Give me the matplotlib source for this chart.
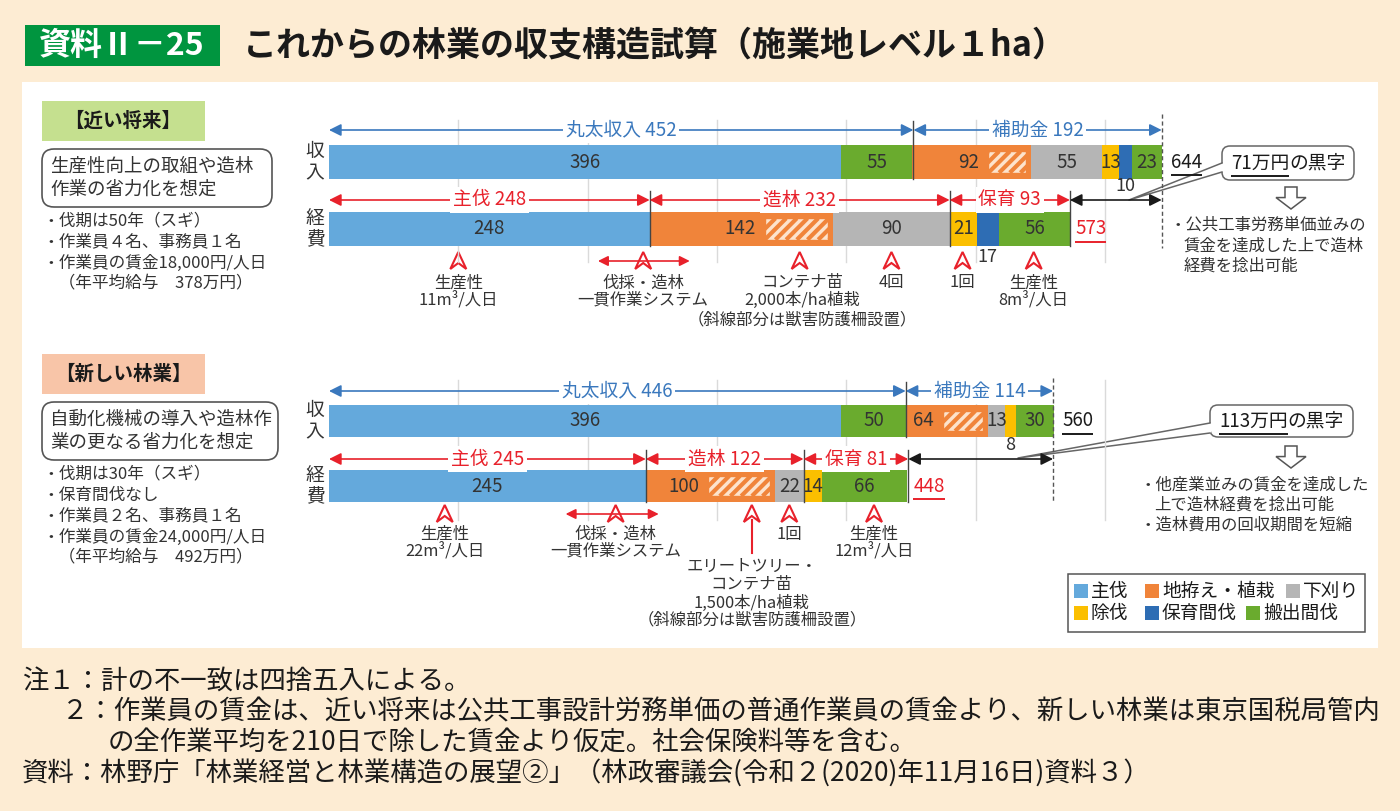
import numpy as np
import matplotlib.pyplot as plt
from matplotlib.patches import Rectangle, FancyBboxPatch, Polygon

plt.rcParams['font.family'] = ['Noto Sans CJK JP', 'DejaVu Sans']

# ---- data (万円/ha) ----
legend_names = ['主伐', '地拵え・植栽', '下刈り', '除伐', '保育間伐', '搬出間伐']
legend_colors = ['#64a9dc', '#f0843a', '#b5b5b5', '#fbbf00', '#2e6db4', '#6aab2e']

near_rev = [396, 55, 92, 55, 13, 10, 23]
near_rev_kind = ['主伐', '搬出間伐', '地拵え・植栽', '下刈り', '除伐', '保育間伐', '搬出間伐']
near_cost = [248, 142, 90, 21, 17, 56]
near_cost_kind = ['主伐', '地拵え・植栽', '下刈り', '除伐', '保育間伐', '搬出間伐']
new_rev = [396, 50, 64, 13, 8, 30]
new_rev_kind = ['主伐', '搬出間伐', '地拵え・植栽', '下刈り', '除伐', '搬出間伐']
new_cost = [245, 100, 22, 14, 66]
new_cost_kind = ['主伐', '地拵え・植栽', '下刈り', '除伐', '搬出間伐']

near_rev_groups = [('丸太収入', 452), ('補助金', 192)]
near_cost_groups = [('主伐', 248), ('造林', 232), ('保育', 93)]
new_rev_groups = [('丸太収入', 446), ('補助金', 114)]
new_cost_groups = [('主伐', 245), ('造林', 122), ('保育', 81)]

near_totals = (644, 573)
new_totals = (560, 448)
surplus_labels = ['71万円', '113万円']

# hatched part (獣害防護柵) inside 地拵え・植栽
near_fence = (29, 49)
new_fence = (31, 48)

colors = dict(zip(legend_names, legend_colors))

BLUE = '#3a78bd'
RED = '#e8212b'
TXT = '#333333'
BG = '#fdecd3'
PALE = '#fde3cc'

# pixel layout: x = X0 + SCALE * value
X0, SCALE = 329, 1.293


def u(px):
    return (px - X0) / SCALE


fig = plt.figure(figsize=(14, 8.11), dpi=100)
fig.patch.set_facecolor(BG)
bg = fig.add_axes([0, 0, 1, 1])
bg.set_xlim(0, 1400)
bg.set_ylim(811, 0)
bg.axis('off')
ax = fig.add_axes([0, 0, 1, 1])
ax.set_xlim(u(0), u(1400))
ax.set_ylim(811, 0)
ax.axis('off')
ax.patch.set_alpha(0)

# frame / title
bg.add_patch(Rectangle((22, 82), 1356, 566, facecolor='white', edgecolor='none'))
bg.add_patch(Rectangle((25, 25), 195, 41, facecolor='#00953f', edgecolor='none'))
bg.text(122, 46, '資料Ⅱ－25', color='white', fontsize=23, fontweight='bold',
        ha='center', va='center')
bg.text(243, 46, 'これからの林業の収支構造試算（施業地レベル１ha）', color='#1a1a1a',
        fontsize=24.5, fontweight='bold', ha='left', va='center')

renderer = fig.canvas.get_renderer()


def underline(axis, t, color, lw=1.4, dy=2, z=3):
    bb = t.get_window_extent(renderer)
    inv = axis.transData.inverted()
    (xa, ya), (xb, yb) = inv.transform([(bb.x0, bb.y0), (bb.x1, bb.y1)])
    axis.plot([xa, xb], [max(ya, yb) + dy, max(ya, yb) + dy], color=color, lw=lw,
              solid_capstyle='butt', zorder=z)


# ---- left panels ----
def left_panel(y0, title, title_color, box_lines, box_w, bullets):
    bg.add_patch(Rectangle((42, y0), 163, 40, facecolor=title_color, edgecolor='none'))
    bg.text(123, y0 + 20, title, fontsize=14, fontweight='bold', ha='center',
            va='center', color='#1a1a1a')
    bg.add_patch(FancyBboxPatch((42, y0 + 48), box_w, 58,
                                boxstyle='round,pad=0,rounding_size=12',
                                facecolor='white', edgecolor='#555555', lw=1.2))
    bg.text(50, y0 + 77, box_lines, fontsize=13.3, ha='left', va='center',
            color=TXT, linespacing=1.35)
    for i, b in enumerate(bullets):
        bg.text(42, y0 + 120 + 21 * i, b, fontsize=12, ha='left', va='center',
                color=TXT)


left_panel(101, '【近い将来】', '#c5e08f', '生産性向上の取組や造林\n作業の省力化を想定', 230,
           ['・伐期は50年（スギ）', '・作業員４名、事務員１名',
            '・作業員の賃金18,000円/人日', '　（年平均給与　378万円）'])
left_panel(354, '【新しい林業】', '#f8c5a8', '自動化機械の導入や造林作\n業の更なる省力化を想定', 236,
           ['・伐期は30年（スギ）', '・保育間伐なし', '・作業員２名、事務員１名',
            '・作業員の賃金24,000円/人日', '　（年平均給与　492万円）'])

for yc, lab in [(162, '収\n入'), (229, '経\n費'), (421, '収\n入'), (486, '経\n費')]:
    bg.text(315, yc, lab, fontsize=13.5, ha='center', va='center', color=TXT,
            linespacing=1.0)

# ---- grid ----
for g in range(100, 700, 100):
    ax.plot([g, g], [120, 262], color='#dadada', lw=1, zorder=0)
    ax.plot([g, g], [380, 520], color='#dadada', lw=1, zorder=0)


def hatch_box(x0, width, yc, hpx):
    rect = Rectangle((x0, yc - hpx / 2), width, hpx, facecolor=PALE,
                     edgecolor='#f0843a', lw=1.0, zorder=3)
    ax.add_patch(rect)
    period = 10.7 / SCALE
    dx = hpx / SCALE
    xs = np.arange(x0 - dx, x0 + width + period, period)
    for xs0 in xs:
        ln, = ax.plot([xs0, xs0 + dx], [yc + hpx / 2, yc - hpx / 2],
                      color='#f0843a', lw=3.0, zorder=3.5, solid_capstyle='butt')
        ln.set_clip_path(rect)


# ---- bars ----
def draw_bar(yc, h, vals, kinds, fence, below_y):
    left = 0
    for v, k in zip(vals, kinds):
        ax.barh(yc, v, left=left, height=h, color=colors[k], zorder=2)
        if k == '地拵え・植栽':
            hs = left + v - 4 - fence
            hatch_box(hs, fence, yc, h * 0.63)
            ax.text(hs - 7, yc, str(v), fontsize=13.5, ha='right', va='center',
                    color=TXT, zorder=4)
        elif k == '保育間伐' or v < 10:
            ax.text(left + v / 2, below_y, str(v), fontsize=13, ha='center',
                    va='center', color=TXT, zorder=4)
        else:
            ax.text(left + v / 2, yc, str(v), fontsize=13.5, ha='center',
                    va='center', color=TXT, zorder=4)
        left += v


draw_bar(162, 34, near_rev, near_rev_kind, near_fence[0], 186)
draw_bar(229, 34, near_cost, near_cost_kind, near_fence[1], 257)
draw_bar(421, 32, new_rev, new_rev_kind, new_fence[0], 445)
draw_bar(486, 32, new_cost, new_cost_kind, new_fence[1], 512)


# ---- group brackets ----
def dbl_arrow(x0, x1, y, color, ms=18, lw=1.2):
    ax.annotate('', xy=(x1, y), xytext=(x0, y),
                arrowprops=dict(arrowstyle='<|-|>', color=color, lw=lw,
                                mutation_scale=ms, shrinkA=0, shrinkB=0),
                zorder=5)


def brackets(groups, y, color, bar_bottom, seps):
    left = 0
    for name, v in groups:
        dbl_arrow(left, left + v, y, color)
        ax.text(left + v / 2, y, f'{name} {v}', fontsize=13.5, color=color,
                ha='center', va='center', zorder=6,
                bbox=dict(boxstyle='square,pad=0.15', facecolor='white',
                          edgecolor='none'))
        left += v
        if left in seps:
            ax.plot([left, left], [y - 9, bar_bottom], color='#444444', lw=1,
                    zorder=4)


brackets(near_rev_groups, 130, BLUE, 179, [452])
brackets(near_cost_groups, 200, RED, 246, [248, 480, 573])
brackets(new_rev_groups, 391, BLUE, 437, [446])
brackets(new_cost_groups, 459, RED, 502, [245, 367, 448])


# totals, surplus arrow, dashed line
def totals_block(tot, rev_y, cost_y, arrow_y, top, bottom):
    rev_t, cost_t = tot
    t1 = ax.text(rev_t + 7, rev_y, str(rev_t), fontsize=13.5, ha='left',
                 va='center', color='#1a1a1a')
    underline(ax, t1, '#1a1a1a')
    t2 = ax.text(cost_t + 4, cost_y, str(cost_t), fontsize=13.5, ha='left',
                 va='center', color=RED)
    underline(ax, t2, RED)
    dbl_arrow(cost_t, rev_t, arrow_y, '#1a1a1a')
    ax.plot([rev_t, rev_t], [top, bottom], color='#555555', lw=1,
            ls=(0, (3, 2)), zorder=5)


totals_block(near_totals, 162, 229, 200, 114, 248)
totals_block(new_totals, 421, 486, 459, 378, 502)


# ---- callouts ----
def callout(x, y, w, h, label, tip, base_y):
    bg.add_patch(FancyBboxPatch((x, y), w, h, boxstyle='round,pad=0,rounding_size=8',
                                facecolor='white', edgecolor='#666666', lw=1.1,
                                zorder=7))
    bg.add_patch(Polygon([(x + 1, base_y[0]), tip, (x + 1, base_y[1])], closed=True,
                         facecolor='white', edgecolor='none', zorder=8))
    bg.plot([x, tip[0], x], [base_y[0], tip[1], base_y[1]], color='#666666',
            lw=1.1, zorder=9)
    cx = x + w / 2
    full = bg.text(cx, y + h / 2, label + 'の黒字', fontsize=13.5, ha='center',
                   va='center', alpha=0)
    bb = full.get_window_extent(renderer)
    start = bg.transData.inverted().transform((bb.x0, bb.y0))[0]
    t = bg.text(start, y + h / 2, label, fontsize=13.5, ha='left', va='center',
                color='#1a1a1a', zorder=10)
    underline(bg, t, '#1a1a1a', z=11)
    tb = t.get_window_extent(renderer)
    end = bg.transData.inverted().transform((tb.x1, tb.y0))[0]
    bg.text(end, y + h / 2, 'の黒字', fontsize=13.5, ha='left', va='center',
            color='#1a1a1a', zorder=10)


callout(1222, 146, 132, 34, surplus_labels[0], (1129, 200), (163, 172))
callout(1210, 405, 143, 32, surplus_labels[1], (1018, 458), (423, 433))


def hollow_down(cx, top, bottom):
    mid = top + (bottom - top) * 0.48
    pts = [(cx - 6, top), (cx + 6, top), (cx + 6, mid), (cx + 15, mid), (cx, bottom),
           (cx - 15, mid), (cx - 6, mid)]
    bg.add_patch(Polygon(pts, closed=True, facecolor='white', edgecolor='#555555',
                         lw=1.1))


hollow_down(1291, 187, 209)
hollow_down(1291, 446, 468)

for x, y, s in [(1170, 225, '・公共工事労務単価並みの'), (1184, 246, '賃金を達成した上で造林'),
                (1184, 266, '経費を捻出可能'),
                (1140, 485, '・他産業並みの賃金を達成した'), (1154, 505, '上で造林経費を捻出可能'),
                (1140, 525, '・造林費用の回収期間を短縮')]:
    bg.text(x, y, s, fontsize=11.8, ha='left', va='center', color=TXT)


# ---- annotation markers ----
def marker(xu, top, size=17):
    px = X0 + SCALE * xu
    w = 8
    pts = [(px, top), (px + w, top + size), (px, top + size - 6), (px - w, top + size)]
    bg.add_patch(Polygon(pts, closed=True, facecolor='white', edgecolor=RED, lw=1.5,
                         zorder=6))


def note(xu, ys, lines, fs=11.8):
    for yy, s in zip(ys, lines):
        ax.text(xu, yy, s, fontsize=fs, ha='center', va='center', color=TXT)


# near future
dbl_arrow(208, 279, 261, RED, ms=15)
for xu in [100, 243, 364, 435, 490, 545]:
    marker(xu, 252)
note(100, [283, 300], ['生産性', '11m³/人日'])
note(243, [283, 300], ['伐採・造林', '一貫作業システム'])
note(366, [283, 300, 320], ['コンテナ苗', '2,000本/ha植栽', '（斜線部分は獣害防護柵設置）'])
note(435, [283], ['4回'])
note(490, [283], ['1回'])
note(545, [283, 300], ['生産性', '8m³/人日'])

# new forestry
dbl_arrow(183, 255, 514, RED, ms=15)
for xu in [89.5, 221.7, 327, 356, 421.5]:
    marker(xu, 505)
ax.plot([327, 327], [520, 553], color=RED, lw=1.5)
note(89.5, [534, 551], ['生産性', '22m³/人日'])
note(221.7, [534, 551], ['伐採・造林', '一貫作業システム'])
note(327, [566, 584, 603, 620], ['エリートツリー・', 'コンテナ苗', '1,500本/ha植栽',
                                 '（斜線部分は獣害防護柵設置）'])
note(356, [534], ['1回'])
note(421.5, [534, 551], ['生産性', '12m³/人日'])

# ---- legend ----
bg.add_patch(Rectangle((1068, 574), 297, 58, facecolor='white', edgecolor='#555555',
                       lw=1.1))
leg_pos = [(1081, 591), (1152, 591), (1293, 591), (1081, 613), (1152, 613), (1253, 613)]
for (lx, ly), name, c in zip(leg_pos, legend_names, legend_colors):
    bg.add_patch(Rectangle((lx - 7, ly - 7), 14, 14, facecolor=c, edgecolor='none'))
    bg.text(lx + 10, ly, name, fontsize=13.5, ha='left', va='center', color='#1a1a1a')

# ---- notes ----
notes = [(22, 682, '注１：計の不一致は四捨五入による。'),
         (62, 712, '２：作業員の賃金は、近い将来は公共工事設計労務単価の普通作業員の賃金より、新しい林業は東京国税局管内'),
         (108, 743, 'の全作業平均を210日で除した賃金より仮定。社会保険料等を含む。'),
         (22, 773, '資料：林野庁「林業経営と林業構造の展望②」（林政審議会(令和２(2020)年11月16日)資料３）')]
for x, y, s in notes:
    bg.text(x, y, s, fontsize=19, ha='left', va='center', color='#1a1a1a')

fig.savefig('out.png', dpi=100, facecolor=BG)
